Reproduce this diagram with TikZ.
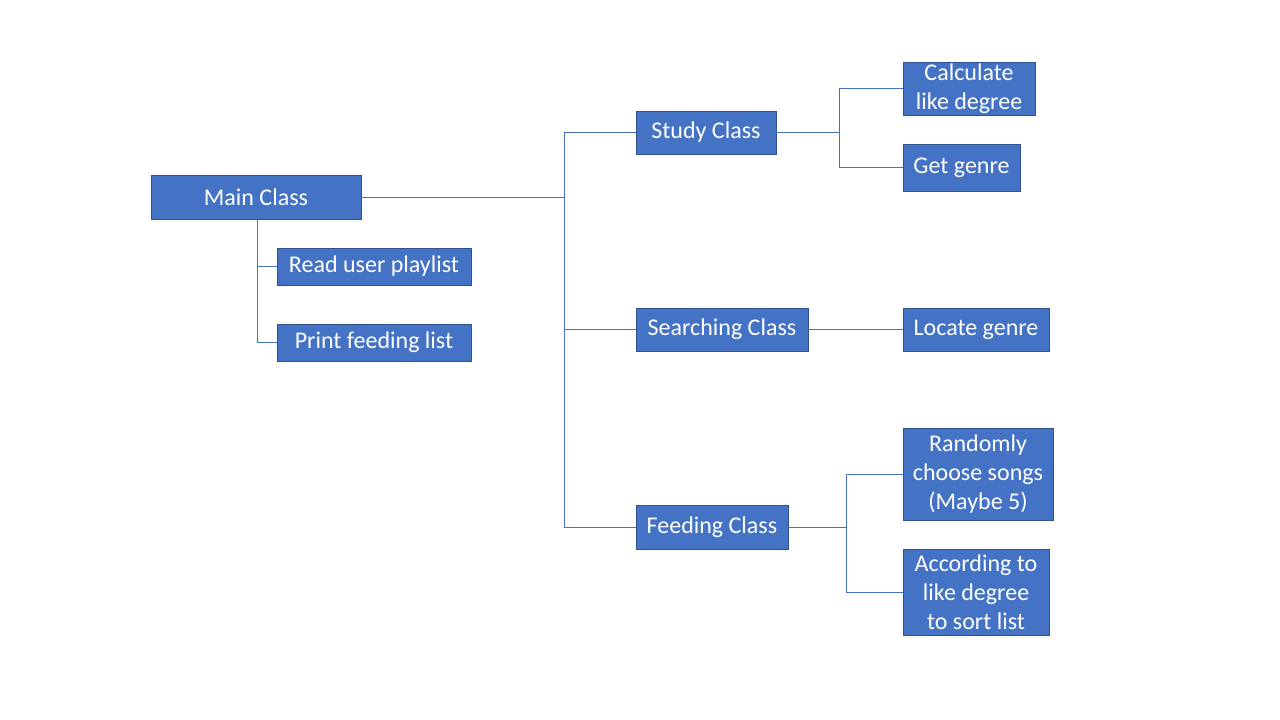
\documentclass[tikz,border=0pt]{standalone}
\usepackage{fontspec}
\setmainfont{Carlito}
\definecolor{boxfill}{HTML}{4472C4}
\definecolor{boxline}{HTML}{2F528F}
\begin{document}
\begin{tikzpicture}[x=1pt,y=-1pt,
  cls/.style={draw=boxline,fill=boxfill,line width=0.8pt,text=white,inner sep=0pt,
    font=\fontsize{24}{29}\selectfont,align=center},
  link/.style={draw=boxfill,line width=0.9pt}]
\useasboundingbox (0,0) rectangle (1280,720);
\node[cls,minimum width=210,minimum height=44] (main) at (256,197) {Main Class};
\node[cls,minimum width=194,minimum height=37] (read) at (374,266.5) {Read user playlist};
\node[cls,minimum width=194,minimum height=37] (print) at (374,342.5) {Print feeding list};
\node[cls,minimum width=140,minimum height=43] (study) at (706,132.5) {Study Class};
\node[cls,minimum width=172,minimum height=43] (search) at (722,329.5) {Searching Class};
\node[cls,minimum width=152,minimum height=44] (feed) at (712,527) {Feeding Class};
\node[cls,minimum width=132,minimum height=53] (calc) at (969,88.5) {Calculate\\like degree};
\node[cls,minimum width=117,minimum height=47] (genre) at (961.5,167.5) {Get genre};
\node[cls,minimum width=146,minimum height=43] (locate) at (976,329.5) {Locate genre};
\node[cls,minimum width=150,minimum height=92] (rand) at (978,474) {Randomly\\choose songs\\(Maybe 5)};
\node[cls,minimum width=146,minimum height=86] (acc) at (976,592) {According to\\like degree\\to sort list};
\coordinate (j1) at (564,197);
\coordinate (j2) at (257,219);
\coordinate (j3) at (839,132.5);
\coordinate (j4) at (846,527);
% main to classes
\draw[link] (main.east) -- (j1);
\draw[link] (study.west) -| (j1);
\draw[link] (search.west) -| (j1);
\draw[link] (feed.west) -| (j1);
% main to its methods
\draw[link] (read.west) -| (j2);
\draw[link] (print.west) -| (j2);
% study
\draw[link] (study.east) -- (j3);
\draw[link] (calc.west) -| (j3);
\draw[link] (genre.west) -| (j3);
% searching
\draw[link] (search.east) -- (locate.west);
% feeding
\draw[link] (feed.east) -- (j4);
\draw[link] (rand.west) -| (j4);
\draw[link] (acc.west) -| (j4);
\end{tikzpicture}
\end{document}
